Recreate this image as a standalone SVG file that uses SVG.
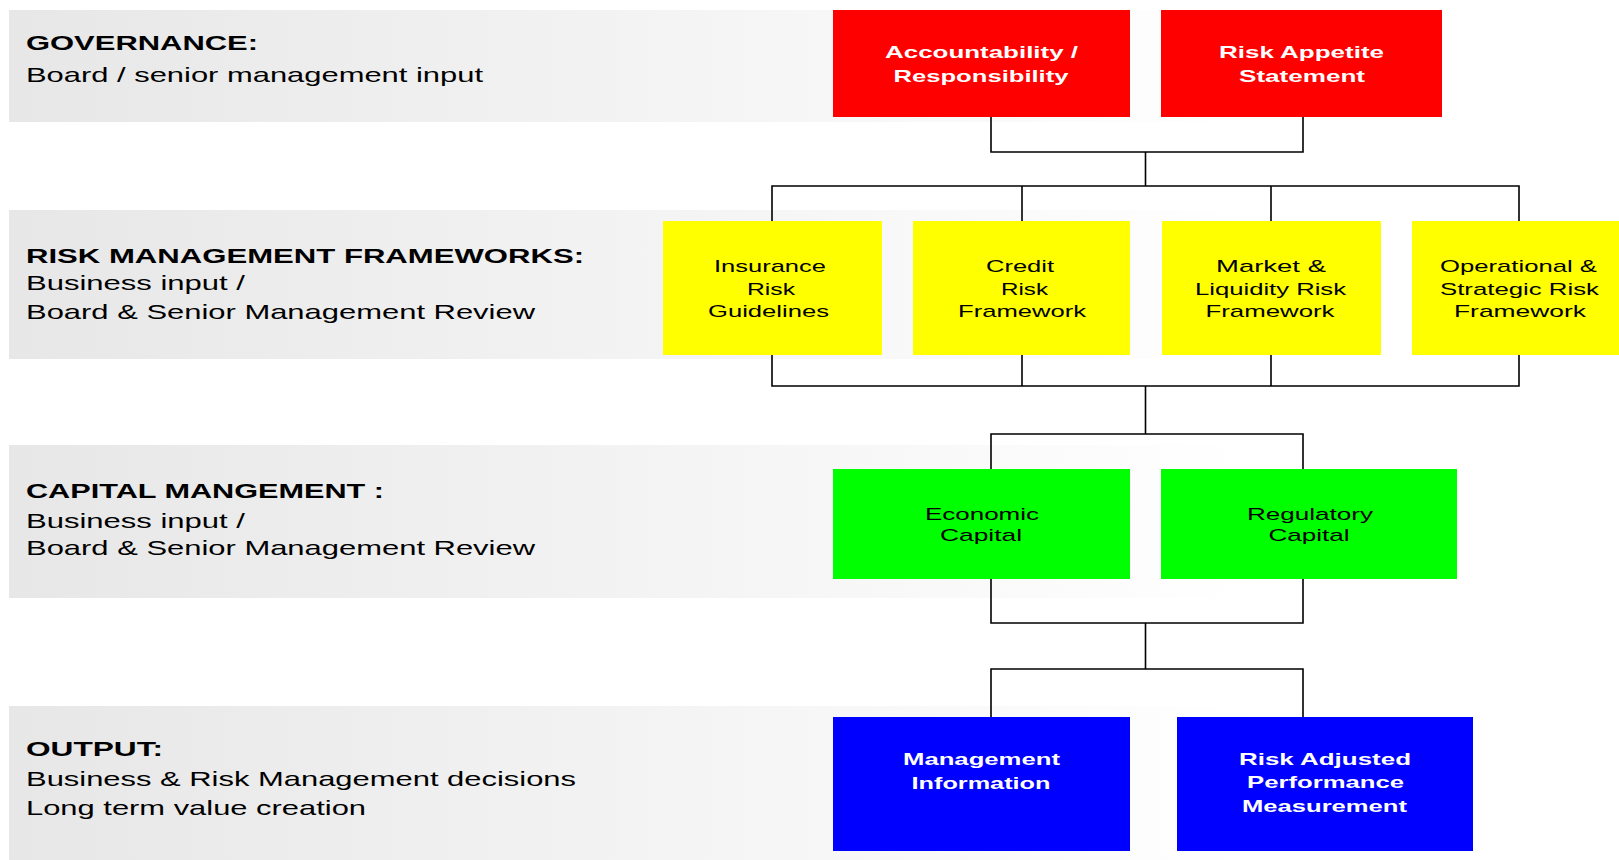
<svg xmlns="http://www.w3.org/2000/svg" width="1619" height="860" viewBox="0 0 1619 860">
<defs>
<linearGradient id="band" x1="0" y1="0" x2="1" y2="0">
<stop offset="0" stop-color="#e7e7e7"/>
<stop offset="1" stop-color="#ffffff"/>
</linearGradient>
<style>
.band{fill:url(#band)}
.lt{font-family:"Liberation Sans",Arial,sans-serif;font-size:21px;fill:#000}
.lh{font-weight:bold}
.bt{font-family:"Liberation Sans",Arial,sans-serif;font-size:17px;text-anchor:middle}
.wb{fill:#fff;font-weight:bold}
.kb{fill:#000}
.red{fill:#ff0000}
.yel{fill:#ffff00}
.grn{fill:#00ff00}
.blu{fill:#0000ff}
.con{fill:none;stroke:#000;stroke-width:1.6}
</style>
</defs>
<rect width="1619" height="860" fill="#fff"/>
<g id="bands">
<rect class="band" x="9" y="10" width="1240" height="112"/>
<rect class="band" x="9" y="210" width="1240" height="149"/>
<rect class="band" x="9" y="445" width="1240" height="153"/>
<rect class="band" x="9" y="706" width="1240" height="154"/>
</g>
<g id="labels">
<text class="lt lh" x="26" y="50" textLength="232" lengthAdjust="spacingAndGlyphs">GOVERNANCE:</text>
<text class="lt" x="26" y="82" textLength="457" lengthAdjust="spacingAndGlyphs">Board / senior management input</text>
<text class="lt lh" x="26" y="263" textLength="558" lengthAdjust="spacingAndGlyphs">RISK MANAGEMENT FRAMEWORKS:</text>
<text class="lt" x="26" y="290" textLength="219" lengthAdjust="spacingAndGlyphs">Business input /</text>
<text class="lt" x="26" y="319" textLength="509" lengthAdjust="spacingAndGlyphs">Board &amp; Senior Management Review</text>
<text class="lt lh" x="26" y="498" textLength="358" lengthAdjust="spacingAndGlyphs">CAPITAL MANGEMENT :</text>
<text class="lt" x="26" y="528" textLength="219" lengthAdjust="spacingAndGlyphs">Business input /</text>
<text class="lt" x="26" y="555" textLength="509" lengthAdjust="spacingAndGlyphs">Board &amp; Senior Management Review</text>
<text class="lt lh" x="26" y="756" textLength="137" lengthAdjust="spacingAndGlyphs">OUTPUT:</text>
<text class="lt" x="26" y="786" textLength="550" lengthAdjust="spacingAndGlyphs">Business &amp; Risk Management decisions</text>
<text class="lt" x="26" y="815" textLength="340" lengthAdjust="spacingAndGlyphs">Long term value creation</text>
</g>
<g id="connectors">
<path class="con" d="M991,116 V152 H1303 V116 M1145.5,152 V186"/>
<path class="con" d="M772,221 V186 H1519 V221 M1022,186 V221 M1271,186 V221"/>
<path class="con" d="M772,355 V386 H1519 V355 M1022,355 V386 M1271,355 V386 M1145.5,386 V434"/>
<path class="con" d="M991,469 V434 H1303 V469"/>
<path class="con" d="M991,579 V623 H1303 V579 M1145.5,623 V669 M991,717 V669 H1303 V717"/>
</g>
<g id="accountability">
<rect class="red" x="833" y="10" width="297" height="107"/>
<text class="bt wb" x="981.5" y="58" textLength="193" lengthAdjust="spacingAndGlyphs">Accountability /</text>
<text class="bt wb" x="981" y="82" textLength="175" lengthAdjust="spacingAndGlyphs">Responsibility</text>
</g>
<g id="risk-appetite">
<rect class="red" x="1161" y="10" width="281" height="107"/>
<text class="bt wb" x="1301.5" y="58" textLength="165" lengthAdjust="spacingAndGlyphs">Risk Appetite</text>
<text class="bt wb" x="1302" y="82" textLength="126" lengthAdjust="spacingAndGlyphs">Statement</text>
</g>
<g id="insurance">
<rect class="yel" x="663" y="221" width="219" height="134"/>
<text class="bt kb" x="770" y="272" textLength="112" lengthAdjust="spacingAndGlyphs">Insurance</text>
<text class="bt kb" x="771" y="295" textLength="48" lengthAdjust="spacingAndGlyphs">Risk</text>
<text class="bt kb" x="768.5" y="317" textLength="121" lengthAdjust="spacingAndGlyphs">Guidelines</text>
</g>
<g id="credit">
<rect class="yel" x="913" y="221" width="217" height="134"/>
<text class="bt kb" x="1020" y="272" textLength="68" lengthAdjust="spacingAndGlyphs">Credit</text>
<text class="bt kb" x="1024.5" y="295" textLength="47" lengthAdjust="spacingAndGlyphs">Risk</text>
<text class="bt kb" x="1022" y="317" textLength="128" lengthAdjust="spacingAndGlyphs">Framework</text>
</g>
<g id="market">
<rect class="yel" x="1162" y="221" width="219" height="134"/>
<text class="bt kb" x="1271" y="272" textLength="110" lengthAdjust="spacingAndGlyphs">Market  &amp;</text>
<text class="bt kb" x="1270.5" y="295" textLength="151" lengthAdjust="spacingAndGlyphs">Liquidity Risk</text>
<text class="bt kb" x="1270" y="317" textLength="129" lengthAdjust="spacingAndGlyphs">Framework</text>
</g>
<g id="operational">
<rect class="yel" x="1412" y="221" width="220" height="134"/>
<text class="bt kb" x="1518.5" y="272" textLength="157" lengthAdjust="spacingAndGlyphs">Operational &amp;</text>
<text class="bt kb" x="1519.5" y="295" textLength="159" lengthAdjust="spacingAndGlyphs">Strategic Risk</text>
<text class="bt kb" x="1520" y="317" textLength="132" lengthAdjust="spacingAndGlyphs">Framework</text>
</g>
<g id="economic">
<rect class="grn" x="833" y="469" width="297" height="110"/>
<text class="bt kb" x="982" y="520" textLength="114" lengthAdjust="spacingAndGlyphs">Economic</text>
<text class="bt kb" x="981" y="541" textLength="82" lengthAdjust="spacingAndGlyphs">Capital</text>
</g>
<g id="regulatory">
<rect class="grn" x="1161" y="469" width="296" height="110"/>
<text class="bt kb" x="1310" y="520" textLength="126" lengthAdjust="spacingAndGlyphs">Regulatory</text>
<text class="bt kb" x="1309" y="541" textLength="81" lengthAdjust="spacingAndGlyphs">Capital</text>
</g>
<g id="management-info">
<rect class="blu" x="833" y="717" width="297" height="134"/>
<text class="bt wb" x="981.5" y="765" textLength="157" lengthAdjust="spacingAndGlyphs">Management</text>
<text class="bt wb" x="981" y="789" textLength="139" lengthAdjust="spacingAndGlyphs">Information</text>
</g>
<g id="rapm">
<rect class="blu" x="1177" y="717" width="296" height="134"/>
<text class="bt wb" x="1325" y="765" textLength="172" lengthAdjust="spacingAndGlyphs">Risk Adjusted</text>
<text class="bt wb" x="1325.5" y="788" textLength="157" lengthAdjust="spacingAndGlyphs">Performance</text>
<text class="bt wb" x="1324.5" y="812" textLength="165" lengthAdjust="spacingAndGlyphs">Measurement</text>
</g>
</svg>
